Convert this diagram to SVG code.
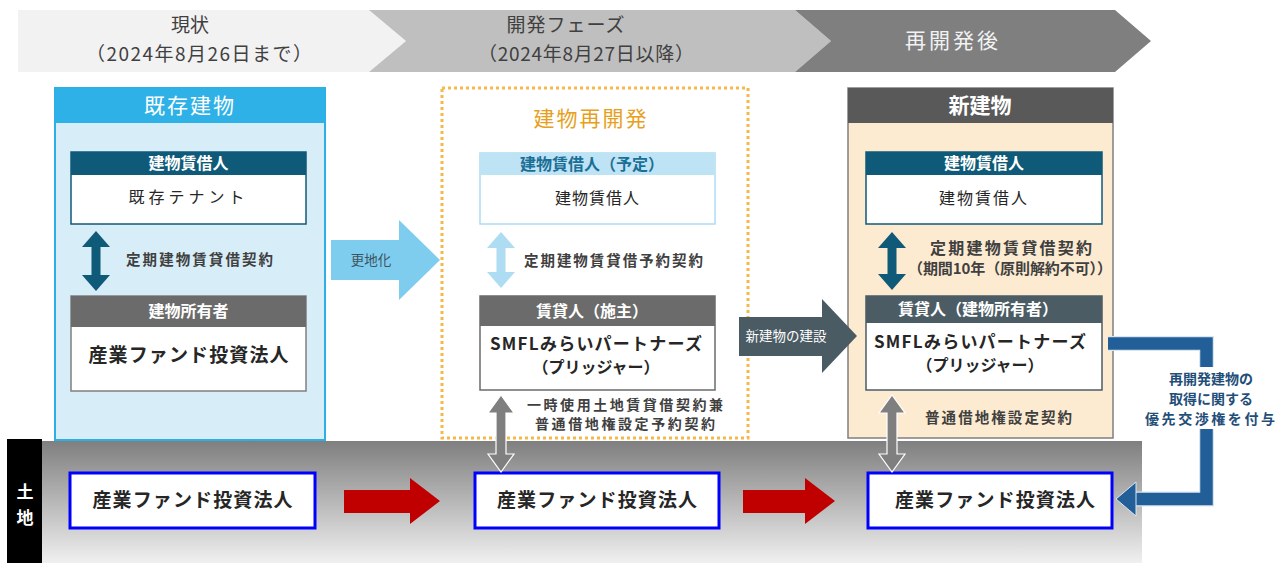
<svg xmlns="http://www.w3.org/2000/svg" width="1288" height="563" viewBox="0 0 1288 563">
<defs>
<linearGradient id="land" x1="0" y1="0" x2="0" y2="1">
<stop offset="0" stop-color="#7f7f7f"/>
<stop offset="1" stop-color="#f0f0f0"/>
</linearGradient>
<style>
text{font-family:"Noto Sans CJK JP","Noto Sans",sans-serif;text-anchor:middle}
.top{font-size:19px;fill:#404040}
.ttl{font-size:21px}
.hdr{font-size:16px;font-weight:700;fill:#fff}
.body{font-size:16px;fill:#262626}
.big{font-size:18px;font-weight:700;fill:#262626}
.lbl{font-size:14.5px;font-weight:700;fill:#404040}
.land{fill:#fff;stroke:#0000ff;stroke-width:3}
.blue{font-size:14px;font-weight:700;fill:#1f4e79}
</style>
</defs>
<rect width="1288" height="563" fill="#fff"/>

<g id="phases">
<polygon points="18,10 369,10 406,41 369,72 18,72" fill="#f2f2f2"/>
<polygon points="369,10 795,10 831,41 795,72 369,72 406,41" fill="#bfbfbf"/>
<polygon points="795,10 1115,10 1151,41 1115,72 795,72 831,41" fill="#7f7f7f"/>
<text class="top" x="190" y="32">現状</text>
<text class="top" x="199" y="61" textLength="226" lengthAdjust="spacing">（2024年8月26日まで）</text>
<text class="top" x="566" y="32" style="letter-spacing:1px">開発フェーズ</text>
<text class="top" x="586" y="61" textLength="216" lengthAdjust="spacing">（2024年8月27日以降）</text>
<text x="953" y="48" style="font-size:21px;fill:#f2f2f2;letter-spacing:3px">再開発後</text>
</g>

<g id="land-band">
<rect x="42" y="441" width="1100" height="122" fill="url(#land)"/>
<rect x="7" y="439" width="35" height="124" fill="#000"/>
<text x="25" y="498" style="font-size:17px;font-weight:700;fill:#fff">土</text>
<text x="25" y="524" style="font-size:17px;font-weight:700;fill:#fff">地</text>
</g>

<g id="panel-existing">
<rect x="55" y="88" width="270" height="352" fill="#d7eef9" stroke="#2eaee6" stroke-width="2"/>
<rect x="55" y="88" width="270" height="35" fill="#2eb1e6"/>
<text class="ttl" x="190" y="113" fill="#fff" style="letter-spacing:2px">既存建物</text>
</g>
<g id="node-existing-tenant">
<rect x="71" y="152" width="235" height="72" fill="#fff" stroke="#0f5a78" stroke-width="1.5"/>
<rect x="71" y="152" width="235" height="23" fill="#0f5a78"/>
<text class="hdr" x="188.5" y="169">建物賃借人</text>
<text class="body" x="188.5" y="203" style="letter-spacing:4px">既存テナント</text>
</g>
<g id="node-existing-owner">
<rect x="71" y="296" width="235" height="95" fill="#fff" stroke="#7f7f7f" stroke-width="1.5"/>
<rect x="71" y="296" width="235" height="31" fill="#6b6b6b"/>
<text class="hdr" x="188.5" y="317">建物所有者</text>
<text class="big" x="188.5" y="362" style="font-size:19px" textLength="200" lengthAdjust="spacing">産業ファンド投資法人</text>
</g>

<g id="panel-redevelop">
<rect x="442" y="88" width="306" height="350" fill="#fff" stroke="#f7b84b" stroke-width="3" stroke-dasharray="3 3"/>
<text class="ttl" x="591" y="126" fill="#e6a01c" style="letter-spacing:2px">建物再開発</text>
</g>
<g id="node-planned-tenant">
<rect x="480" y="153" width="235" height="71" fill="#fff" stroke="#aedcf2" stroke-width="1.5"/>
<rect x="480" y="153" width="235" height="22" fill="#bde3f4"/>
<text class="hdr" x="592" y="170" style="fill:#1b6f97">建物賃借人（予定）</text>
<text class="body" x="597.5" y="204" style="letter-spacing:1px">建物賃借人</text>
</g>
<g id="node-lessor-builder">
<rect x="480" y="296" width="235" height="94" fill="#fff" stroke="#6b6b6b" stroke-width="1.5"/>
<rect x="480" y="296" width="235" height="30" fill="#6b6b6b"/>
<text class="hdr" x="592" y="317">賃貸人（施主）</text>
<text class="big" x="596" y="350" style="font-size:17px" textLength="212" lengthAdjust="spacing">SMFLみらいパートナーズ</text>
<text class="big" x="596" y="373" style="font-size:16px">（プリッジャー）</text>
</g>

<g id="panel-new">
<rect x="848" y="88" width="265" height="350" fill="#fdebd1" stroke="#7f7f7f" stroke-width="1.5"/>
<rect x="848" y="88" width="265" height="35" fill="#595959"/>
<text class="ttl" x="980" y="113" fill="#fff" style="font-weight:700">新建物</text>
</g>
<g id="node-new-tenant">
<rect x="866" y="152" width="236" height="72" fill="#fff" stroke="#0f5a78" stroke-width="1.5"/>
<rect x="866" y="152" width="236" height="23" fill="#0f5a78"/>
<text class="hdr" x="984" y="169">建物賃借人</text>
<text class="body" x="984" y="204" style="letter-spacing:2px">建物賃借人</text>
</g>
<g id="node-new-owner">
<rect x="866" y="296" width="236" height="94" fill="#fff" stroke="#4b5c64" stroke-width="1.5"/>
<rect x="866" y="296" width="236" height="27" fill="#4b5c64"/>
<text class="hdr" x="978" y="315">賃貸人（建物所有者）</text>
<text class="big" x="980" y="348" style="font-size:17px" textLength="212" lengthAdjust="spacing">SMFLみらいパートナーズ</text>
<text class="big" x="980" y="371" style="font-size:16px">（プリッジャー）</text>
</g>

<g id="node-land-1">
<rect class="land" x="70" y="473" width="245" height="55"/>
<text class="big" x="192.5" y="507" style="font-size:19px" textLength="200" lengthAdjust="spacing">産業ファンド投資法人</text>
</g>
<g id="node-land-2">
<rect class="land" x="475" y="473" width="244" height="55"/>
<text class="big" x="597" y="507" style="font-size:19px" textLength="200" lengthAdjust="spacing">産業ファンド投資法人</text>
</g>
<g id="node-land-3">
<rect class="land" x="868" y="473" width="244" height="55"/>
<text class="big" x="995" y="507" style="font-size:19px" textLength="200" lengthAdjust="spacing">産業ファンド投資法人</text>
</g>

<g id="connectors">
<polygon points="96,231 110,247 100.5,247 100.5,275 110,275 96,291 82,275 91.5,275 91.5,247 82,247" fill="#0f5a78"/>
<polygon points="501,232 515,248 505.5,248 505.5,272 515,272 501,288 487,272 496.5,272 496.5,248 487,248" fill="#aedcf2"/>
<polygon points="892,232 906,248 896.5,248 896.5,274 906,274 892,290 878,274 887.5,274 887.5,248 878,248" fill="#0f5a78"/>
<polygon points="501,395 514,413 506,413 506,454 514,454 501,472 488,454 496,454 496,413 488,413" fill="#7f7f7f" stroke="#fff" stroke-width="1.2"/>
<polygon points="892,395 905,413 897,413 897,454 905,454 892,472 879,454 887,454 887,413 879,413" fill="#7f7f7f" stroke="#fff" stroke-width="1.2"/>
<polygon points="331,240 399,240 399,220 440,260 399,300 399,280 331,280" fill="#7fcdee"/>
<text x="371" y="265" style="font-size:13.5px;fill:#3d5560">更地化</text>
<polygon points="739,317 822,317 822,299 857,336 822,373 822,356 739,356" fill="#4b5b63"/>
<text x="786" y="341" style="font-size:13.5px;fill:#fff">新建物の建設</text>
<polygon points="344,490 410,490 410,478 440,501 410,524 410,513 344,513" fill="#c00000"/>
<polygon points="743,490 805,490 805,478 835,501 805,524 805,513 743,513" fill="#c00000"/>
<path d="M1108,343.5 H1206.5 V499 H1133" fill="none" stroke="#dbe5ef" stroke-width="15"/>
<path d="M1108,343.5 H1206.5 V499 H1133" fill="none" stroke="#225f99" stroke-width="12.5"/>
<polygon points="1116,499 1136,482 1136,516" fill="#225f99" stroke="#dbe5ef" stroke-width="1"/>
<rect x="1140" y="367" width="142" height="62" fill="#fff"/>
</g>

<g id="labels">
<text class="lbl" x="199.5" y="265" textLength="147" lengthAdjust="spacing">定期建物賃貸借契約</text>
<text class="lbl" x="613.5" y="266" textLength="179" lengthAdjust="spacing">定期建物賃貸借予約契約</text>
<text class="lbl" x="625" y="410" style="font-size:14px" textLength="196" lengthAdjust="spacing">一時使用土地賃貸借契約兼</text>
<text class="lbl" x="625" y="429" style="font-size:14px" textLength="180" lengthAdjust="spacing">普通借地権設定予約契約</text>
<text class="lbl" x="1011" y="254" style="font-size:16px" textLength="162" lengthAdjust="spacing">定期建物賃貸借契約</text>
<text class="lbl" x="1010" y="274" style="font-size:15px" textLength="204" lengthAdjust="spacing">（期間10年（原則解約不可））</text>
<text class="lbl" x="998.5" y="423" textLength="147" lengthAdjust="spacing">普通借地権設定契約</text>
<text class="blue" x="1211" y="384">再開発建物の</text>
<text class="blue" x="1211" y="404">取得に関する</text>
<text class="blue" x="1210" y="424" textLength="130" lengthAdjust="spacing">優先交渉権を付与</text>
</g>
</svg>
